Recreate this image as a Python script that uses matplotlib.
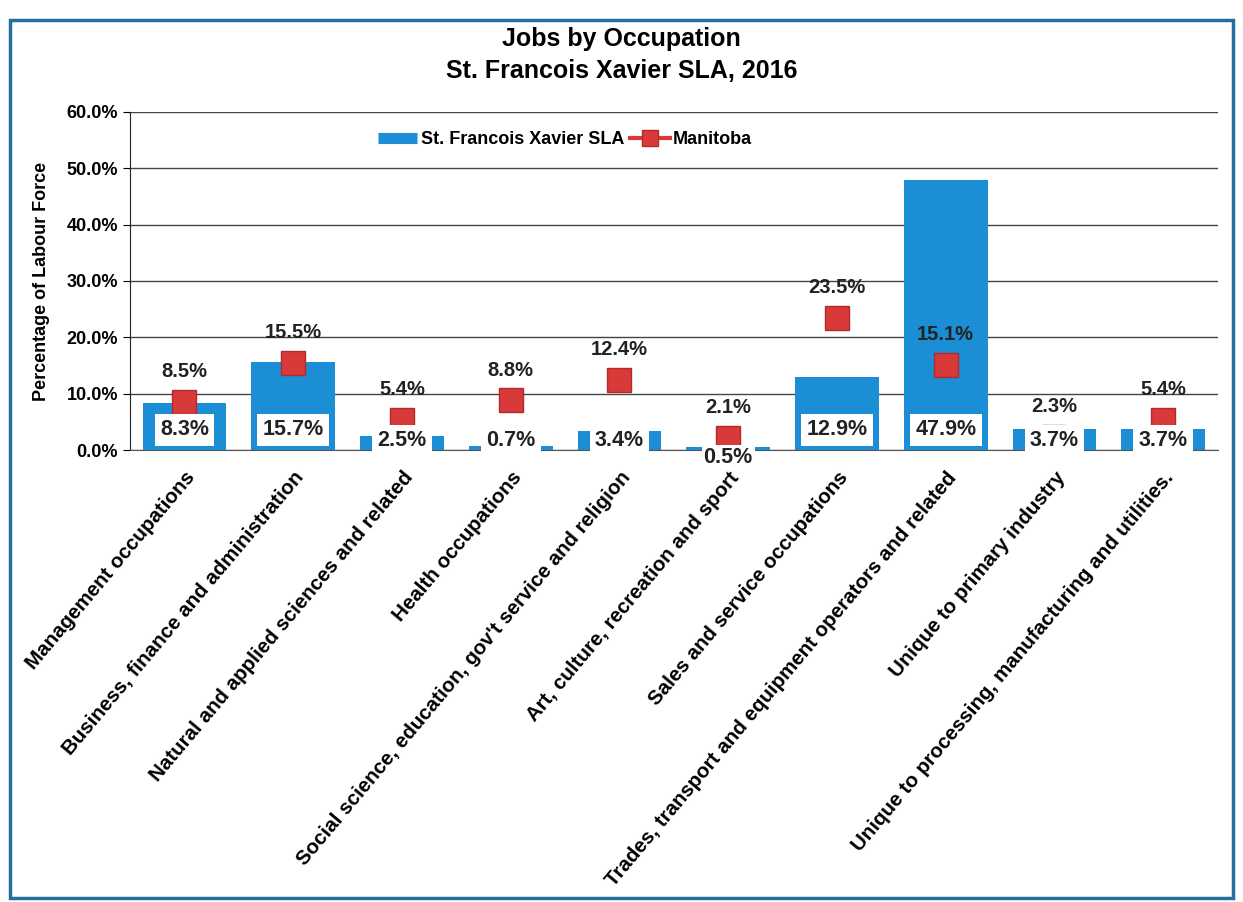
import matplotlib.pyplot as plt
from matplotlib.lines import Line2D
from matplotlib.patches import Rectangle

plt.rcParams['font.family'] = ['Liberation Sans', 'DejaVu Sans']
plt.rcParams['font.weight'] = 'bold'

# ---- Data ----
occupations = [
    "Management occupations",
    "Business, finance and administration",
    "Natural and applied sciences and related",
    "Health occupations",
    "Social science, education, gov't service and religion",
    "Art, culture, recreation and sport",
    "Sales and service occupations",
    "Trades, transport and equipment operators and related",
    "Unique to primary industry",
    "Unique to processing, manufacturing and utilities.",
]
sfx_pct = [8.3, 15.7, 2.5, 0.7, 3.4, 0.5, 12.9, 47.9, 3.7, 3.7]
manitoba_pct = [8.5, 15.5, 5.4, 8.8, 12.4, 2.1, 23.5, 15.1, 2.3, 5.4]
y_ticks = [0, 10, 20, 30, 40, 50, 60]

bar_blue = '#1c8ed6'
mark_red = '#d83a3a'

fig = plt.figure(figsize=(12.43, 9.02), dpi=100)
ax = fig.add_axes([0.1046, 0.501, 0.875, 0.375])

x = list(range(len(occupations)))
ax.bar(x, sfx_pct, width=0.77, color=bar_blue, zorder=2)
ax.plot(x, manitoba_pct, linestyle='none', marker='s', markersize=17,
        markerfacecolor=mark_red, markeredgecolor='#b22a2a', zorder=3)

# ---- Bar value labels (white boxes at the base) ----
for i, v in enumerate(sfx_pct):
    pad = 0.25
    if v >= 5:
        ypos = 3.6
    elif v < 0.6:
        ypos = -1.3   # too small, label drops under the axis
        pad = 0.08
    else:
        ypos = 1.7
    ax.text(i, ypos, f"{v:.1f}%", ha='center', va='center', fontsize=15.5,
            fontweight='bold', color='#222222', zorder=5,
            bbox=dict(boxstyle=f'square,pad={pad}', facecolor='white',
                      edgecolor='none'))

# ---- Manitoba value labels ----
for i, v in enumerate(manitoba_pct):
    ax.annotate(f"{v:.1f}%", (i, v), xytext=(0, 15), textcoords='offset points',
                ha='center', va='bottom', fontsize=14.5, fontweight='bold',
                color='#222222', zorder=4)

ax.set_xlim(-0.5, len(occupations) - 0.5)
ax.set_ylim(0, 60)
ax.set_yticks(y_ticks)
ax.set_yticklabels([f"{t:.1f}%" for t in y_ticks], fontsize=13, fontweight='bold')
ax.set_xticks(x)
ax.set_xticklabels(occupations, rotation=50, ha='right', rotation_mode='anchor',
                   fontsize=14.8, fontweight='bold')
ax.tick_params(axis='x', length=0, pad=13)
ax.tick_params(axis='y', length=5, direction='out')
ax.grid(axis='y', color='#444444', linewidth=1, zorder=0)
ax.set_axisbelow(True)
for side in ['top', 'right']:
    ax.spines[side].set_visible(False)
ax.spines['left'].set_color('#222222')
ax.spines['bottom'].set_color('#555555')
ax.set_ylabel("Percentage of Labour Force", fontsize=13, fontweight='bold',
              labelpad=12)

# ---- Legend ----
handles = [
    Line2D([], [], color=bar_blue, linewidth=8, solid_capstyle='butt'),
    Line2D([], [], color=mark_red, linewidth=3, marker='s', markersize=11,
           markerfacecolor=mark_red, markeredgecolor='#b22a2a'),
]
ax.legend(handles, ["St. Francois Xavier SLA", "Manitoba"], loc='center',
          bbox_to_anchor=(0.4, 0.918), ncol=2, frameon=False,
          handlelength=2.2, handletextpad=0.2, columnspacing=0.3,
          prop={'weight': 'bold', 'size': 13})

fig.text(0.5, 0.957, "Jobs by Occupation", ha='center', va='center',
         fontsize=18, fontweight='bold')
fig.text(0.5, 0.921, "St. Francois Xavier SLA, 2016", ha='center', va='center',
         fontsize=18, fontweight='bold')

# frame round the chart
fig.patches.append(Rectangle((0.008, 0.004), 0.984, 0.974, transform=fig.transFigure,
                             fill=False, edgecolor='#23709e', linewidth=2.5))

fig.savefig("out.png", dpi=100)
